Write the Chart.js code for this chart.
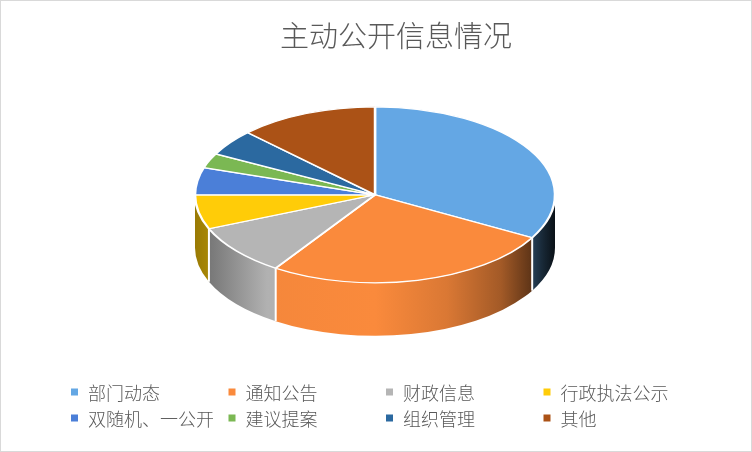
<!DOCTYPE html>
<html>
<head>
<meta charset="utf-8">
<script src="https://cdn.jsdelivr.net/npm/chart.js@4.4.1/dist/chart.umd.min.js"></script>
<style>
    html, body { margin: 0; padding: 0; background: #fff; }
    #wrap { width: 752px; height: 452px; box-sizing: border-box; border: 1px solid #d9d9d9; position: relative; }
</style>
</head>
<body>
<div id="wrap"><canvas id="infoPie"></canvas></div>
<script>
const categories = ['部门动态', '通知公告', '财政信息', '行政执法公示', '双随机、一公开', '建议提案', '组织管理', '其他'];
const shares = [33.1, 26.2, 9.4, 6.3, 5.0, 2.7, 4.8, 12.5];
const sliceColors = ['#64A7E4', '#FA8A3C', '#B5B5B5', '#FFCC08', '#4B7FD8', '#7BB853', '#2B69A0', '#AB5216'];

const FONT = '"Noto Sans CJK SC", "Noto Sans", sans-serif';
const TEXT_COLOR = '#595959';

// flattened pie geometry (pixels)
const RX = 180, RY = 88, DEPTH = 53;
// side shading from left to right edge: [position, brightness]
const sideShade = [[0, 0.6], [0.05, 0.68], [0.2, 0.98], [0.5, 1], [0.7, 0.87], [0.85, 0.65], [0.94, 0.36], [0.97, 0.22], [1, 0.1]];

function shade(hex, k) {
    const n = parseInt(hex.slice(1), 16);
    const r = Math.round(((n >> 16) & 255) * k);
    const g = Math.round(((n >> 8) & 255) * k);
    const b = Math.round((n & 255) * k);
    return `rgb(${r},${g},${b})`;
}

function pieCenter(chart) {
    return { cx: chart.width / 2 - 1, cy: chart.chartArea.top + RY };
}

const pie3d = {
    id: 'pie3d',
    beforeDatasetsDraw(chart) {
        const ctx = chart.ctx;
        const meta = chart.getDatasetMeta(0);
        const { cx, cy } = pieCenter(chart);

        meta.data.forEach((arc, i) => {
            const s = Math.max(arc.startAngle, 0);
            const e = Math.min(arc.endAngle, Math.PI);
            if (e <= s) return;
            const grad = ctx.createLinearGradient(cx - RX, 0, cx + RX, 0);
            sideShade.forEach(([p, k]) => grad.addColorStop(p, shade(sliceColors[i], k)));
            ctx.beginPath();
            ctx.ellipse(cx, cy, RX, RY, 0, s, e, false);
            ctx.ellipse(cx, cy + DEPTH, RX, RY, 0, e, s, true);
            ctx.closePath();
            ctx.fillStyle = grad;
            ctx.fill();
        });

        // white seams on the side between slices
        ctx.save();
        ctx.strokeStyle = '#fff';
        ctx.lineWidth = 2;
        meta.data.forEach(arc => {
            const a = arc.endAngle;
            if (a > 0 && a < Math.PI) {
                const x = cx + RX * Math.cos(a);
                const y = cy + RY * Math.sin(a);
                ctx.beginPath();
                ctx.moveTo(x, y);
                ctx.lineTo(x, y + DEPTH);
                ctx.stroke();
            }
        });
        ctx.restore();

        // squash the round pie into the top ellipse
        const a0 = meta.data[0];
        ctx.save();
        ctx.translate(cx, cy);
        ctx.scale(RX / a0.outerRadius, RY / a0.outerRadius);
        ctx.translate(-a0.x, -a0.y);
    },
    afterDatasetsDraw(chart) {
        chart.ctx.restore();
    }
};

// Excel-style legend with fixed columns
const LEGEND_LEFT = 70, LEGEND_STEP = 157.5, LEGEND_TOP = 391, LEGEND_ROW = 26, LEGEND_COLS = 4;
const gridLegend = {
    id: 'gridLegend',
    afterDraw(chart) {
        const ctx = chart.ctx;
        ctx.save();
        ctx.font = `300 18px ${FONT}`;
        ctx.textBaseline = 'middle';
        ctx.textAlign = 'left';
        categories.forEach((label, i) => {
            const x = LEGEND_LEFT + (i % LEGEND_COLS) * LEGEND_STEP;
            const y = LEGEND_TOP + Math.floor(i / LEGEND_COLS) * LEGEND_ROW;
            ctx.fillStyle = sliceColors[i];
            ctx.fillRect(x, y - 3.5, 7, 7);
            ctx.fillStyle = TEXT_COLOR;
            ctx.fillText(label, x + 17, y + 1);
        });
        ctx.restore();
    }
};

new Chart(document.getElementById('infoPie'), {
    type: 'pie',
    data: {
        labels: categories,
        datasets: [{
            data: shares,
            backgroundColor: sliceColors,
            borderColor: '#fff',
            borderWidth: 1.6,
            clip: false
        }]
    },
    options: {
        responsive: true,
        maintainAspectRatio: false,
        animation: false,
        layout: { padding: { left: 40, bottom: 110 } },
        plugins: {
            legend: { display: false },
            tooltip: { enabled: false },
            title: {
                display: true,
                text: '主动公开信息情况',
                color: TEXT_COLOR,
                font: { family: FONT, size: 29, weight: 300 },
                padding: { top: 18, bottom: 53 }
            }
        }
    },
    plugins: [pie3d, gridLegend]
});
</script>
</body>
</html>
